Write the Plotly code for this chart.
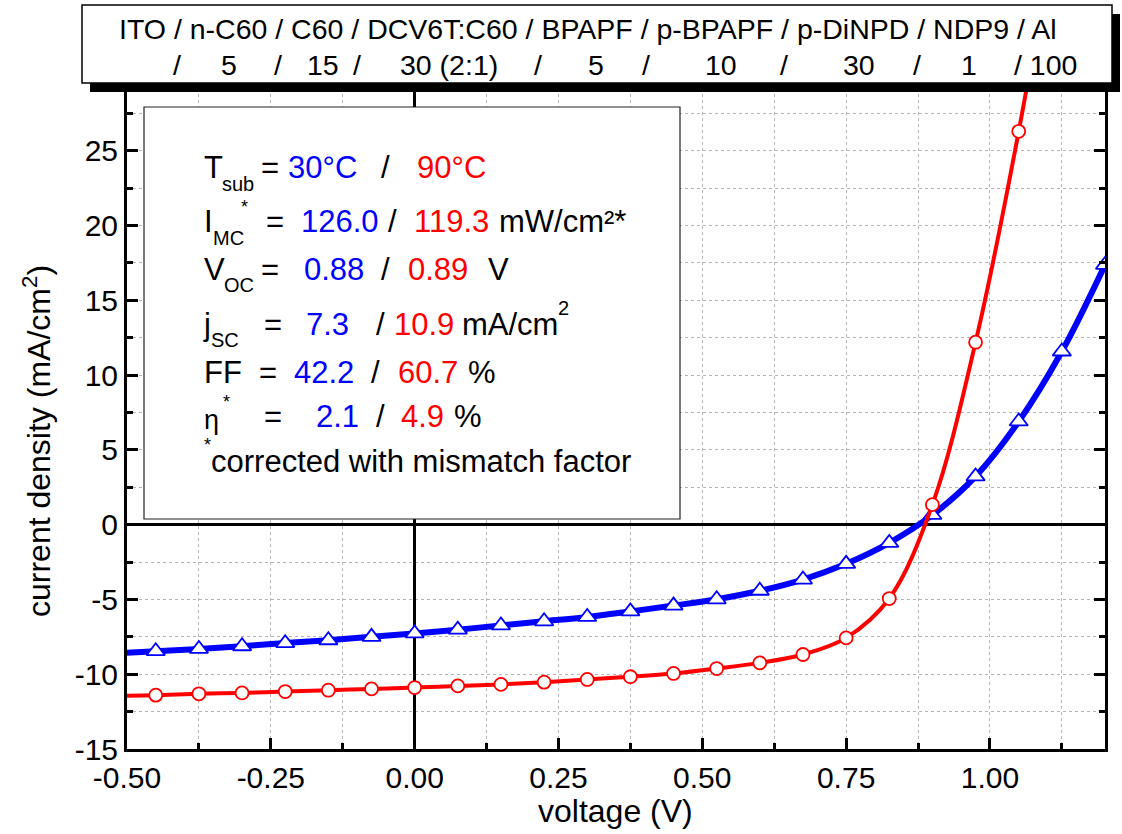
import plotly.graph_objects as go

# ---------------- data ----------------
voltage = [-0.525, -0.45, -0.375, -0.3, -0.225, -0.15, -0.075, 0.0, 0.075, 0.15, 0.225, 0.3,
           0.375, 0.45, 0.525, 0.6, 0.675, 0.75, 0.825, 0.9, 0.975, 1.05, 1.125, 1.2]
j_30C = [-8.62, -8.46, -8.31, -8.13, -7.92, -7.73, -7.50, -7.27, -7.02, -6.74, -6.46, -6.17,
         -5.80, -5.41, -4.99, -4.42, -3.67, -2.62, -1.22, 0.65, 3.23, 6.90, 11.58, 17.37]
j_90C = [-11.47, -11.40, -11.31, -11.25, -11.16, -11.07, -10.98, -10.89, -10.78, -10.68, -10.53, -10.35,
         -10.17, -9.95, -9.62, -9.24, -8.68, -7.57, -4.94, 1.34, 12.2, 26.3, 43.0, 62.0]

x_tick_vals = [-0.5, -0.25, 0.0, 0.25, 0.5, 0.75, 1.0]
x_tick_labels = ["-0.50", "-0.25", "0.00", "0.25", "0.50", "0.75", "1.00"]
y_tick_vals = [-15, -10, -5, 0, 5, 10, 15, 20, 25]
y_tick_labels = ["-15", "-10", "-5", "0", "5", "10", "15", "20", "25"]

header_line1 = "ITO / n-C60 / C60 / DCV6T:C60 / BPAPF / p-BPAPF / p-DiNPD / NDP9 / Al"
header_line2 = ["/", "5", "/", "15", "/", "30 (2:1)", "/", "5", "/", "10", "/", "30", "/", "1", "/ 100"]

# ---------------- layout geometry ----------------
FW, FH = 1122, 834
L, R, T, B = 127, 17, 76, 85
PW, PH = FW - L - R, FH - T - B

def X(px):
    return (px - L) / PW

def Y(py):
    return (FH - B - py) / PH

FONT = "Liberation Sans, Arial, sans-serif"
BLUE = "#0000ff"
RED = "#ff0000"

fig = go.Figure()

fig.add_trace(go.Scatter(
    x=voltage, y=j_30C, mode="lines+markers", line=dict(color=BLUE, width=6, shape="spline"),
    marker=dict(symbol="triangle-up", size=16, color="white", line=dict(color=BLUE, width=1.8)),
    showlegend=False, cliponaxis=True))
fig.add_trace(go.Scatter(
    x=voltage, y=j_90C, mode="lines+markers", line=dict(color=RED, width=4, shape="spline"),
    marker=dict(symbol="circle", size=13, color="white", line=dict(color=RED, width=1.8)),
    showlegend=False, cliponaxis=True))

grid_col = "#b4b4b4"
common_axis = dict(
    showline=True, linecolor="black", linewidth=3, mirror="allticks",
    ticks="inside", tickwidth=3, tickcolor="black",
    showgrid=True, gridcolor=grid_col, gridwidth=1, griddash="3px,3px",
    zeroline=True, zerolinecolor="black",
    tickfont=dict(family=FONT, size=30, color="black"),
)

fig.update_xaxes(
    range=[-0.5, 1.2], tickvals=x_tick_vals, ticktext=x_tick_labels, ticklen=11,
    zerolinewidth=2.5,
    minor=dict(dtick=0.125, tick0=0, ticks="inside", ticklen=6, tickwidth=2.5, tickcolor="black",
               showgrid=True, gridcolor=grid_col, gridwidth=1, griddash="3px,3px"),
    **common_axis)
fig.update_yaxes(
    range=[-15, 30], tickvals=y_tick_vals, ticktext=y_tick_labels, ticklen=11,
    zerolinewidth=3, ticklabelstandoff=0,
    minor=dict(dtick=2.5, tick0=0, ticks="inside", ticklen=6, tickwidth=2.5, tickcolor="black",
               showgrid=True, gridcolor=grid_col, gridwidth=1, griddash="3px,3px"),
    **common_axis)

shapes = []
# header box with shadow
shapes.append(dict(type="rect", xref="paper", yref="paper", x0=X(90), x1=X(1120), y0=Y(92), y1=Y(14),
                   fillcolor="black", line=dict(width=0), layer="above"))
shapes.append(dict(type="rect", xref="paper", yref="paper", x0=X(82), x1=X(1112), y0=Y(83), y1=Y(5),
                   fillcolor="white", line=dict(color="black", width=1.5), layer="above"))
# info box
shapes.append(dict(type="rect", xref="paper", yref="paper", x0=X(144), x1=X(680), y0=Y(519), y1=Y(107),
                   fillcolor="white", line=dict(color="#222222", width=1.2), layer="above"))

ann = []

def txt(s, px, py, size=31, color="black", xanchor="left", **kw):
    ann.append(dict(text=s, x=X(px), y=Y(py), xref="paper", yref="paper", showarrow=False,
                    xanchor=xanchor, yanchor="middle", font=dict(family=FONT, size=size, color=color),
                    borderpad=0, **kw))

# header
txt(header_line1, 588, 29, size=28.5, xanchor="center")
h2_x = [177, 229, 278, 323, 357, 449, 538, 596, 646, 721, 784, 859, 917, 969, 1045]
for s, xx in zip(header_line2, h2_x):
    txt(s, xx, 65, size=28.5, xanchor="center")

# info text
SUB = 20
txt("T", 203, 167.5)
txt("sub", 221, 184, size=SUB)
txt("=", 260, 167.5)
txt("30°C", 286.7, 167.5, color=BLUE)
txt("/", 380, 167.5)
txt("90°C", 416, 167.5, color=RED)

txt("I", 203, 221)
txt("*", 240, 207, size=18)
txt("MC", 211.7, 238, size=SUB)
txt("=", 265, 221)
txt("126.0", 300, 221, color=BLUE)
txt("/", 387, 221)
txt("119.3", 413.3, 221, color=RED)
txt("mW/cm²*", 498.3, 221)

txt("V", 203, 269)
txt("OC", 223.3, 285, size=SUB)
txt("=", 260, 269)
txt("0.88", 303.3, 269, color=BLUE)
txt("/", 380, 269)
txt("0.89", 407.3, 269, color=RED)
txt("V", 486.7, 269)

txt("j", 201.7, 324)
txt("SC", 210, 340, size=SUB)
txt("=", 262.7, 324)
txt("7.3", 305, 324, color=BLUE)
txt("/", 375, 324)
txt("10.9", 393.3, 324, color=RED)
txt("mA/cm", 460.7, 324)
txt("2", 557, 308, size=SUB)

txt("FF", 203, 372.5)
txt("=", 258.3, 372.5)
txt("42.2", 293.3, 372.5, color=BLUE)
txt("/", 370, 372.5)
txt("60.7", 396.7, 372.5, color=RED)
txt("%", 466.7, 372.5)

txt("η", 203, 420, size=27)
txt("*", 221.7, 402, size=18)
txt("=", 262.7, 416)
txt("2.1", 315, 416, color=BLUE)
txt("/", 375, 416)
txt("4.9", 400, 416, color=RED)
txt("%", 453.3, 416)

txt("*", 203.3, 445, size=18)
txt("corrected with mismatch factor", 210, 461)

# axis titles
txt("voltage (V)", 615, 811, size=32, xanchor="center")
txt("current density (mA/cm<sup>2</sup>)", 37, 441, size=32, xanchor="center", textangle=-90)

fig.update_layout(
    width=FW, height=FH, margin=dict(l=L, r=R, t=T, b=B, autoexpand=False),
    paper_bgcolor="white", plot_bgcolor="white",
    shapes=shapes, annotations=ann, showlegend=False,
    font=dict(family=FONT, color="black"),
)

fig.write_html("out.html")
